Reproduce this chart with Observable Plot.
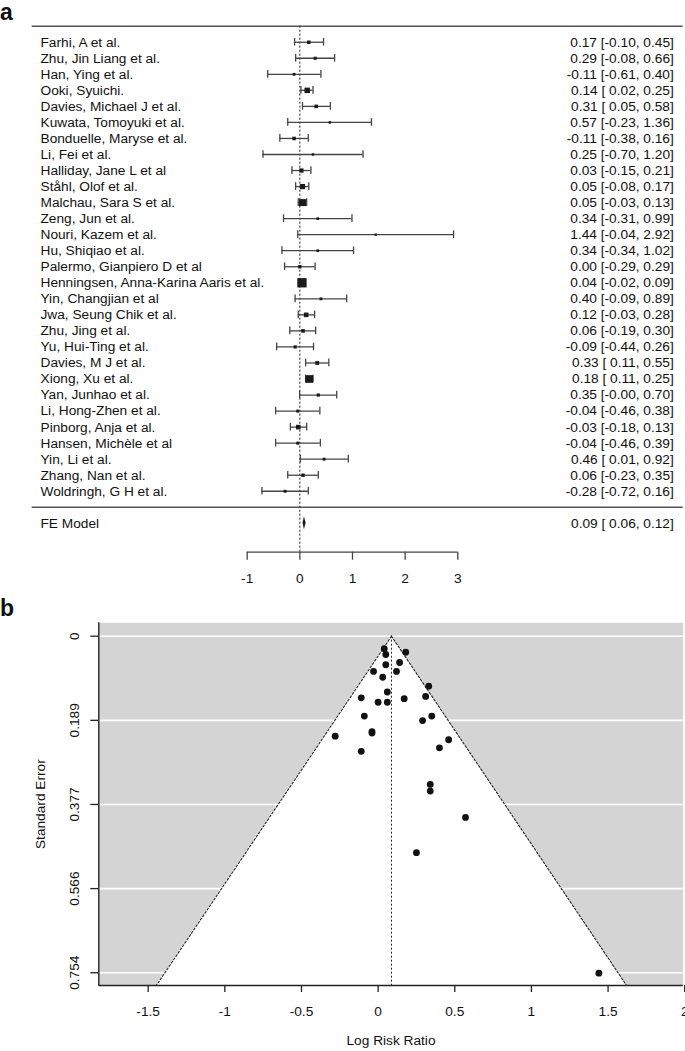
<!DOCTYPE html>
<html><head><meta charset="utf-8">
<script src="https://cdn.jsdelivr.net/npm/d3@7"></script>
<script src="https://cdn.jsdelivr.net/npm/@observablehq/plot@0.6"></script>
<style>
body{margin:0;background:#fff;}
#wrap{position:relative;width:685px;height:1051px;overflow:hidden;font-family:"Liberation Sans",Arial,sans-serif;}
.panel{position:absolute;left:0;}
.tag{position:absolute;left:0;font-weight:bold;font-size:23px;line-height:23px;color:#111;}
</style></head><body>
<div id="wrap">
 <div id="pa" class="panel" style="top:0"></div>
 <div id="pb" class="panel" style="top:600px"></div>
 <div class="tag" style="top:0.5px">a</div>
 <div class="tag" style="top:596.5px">b</div>
</div>
<script>
// ---- data ----
const studies = [
  "Farhi, A et al.", "Zhu, Jin Liang et al.", "Han, Ying et al.", "Ooki, Syuichi.",
  "Davies, Michael J et al.", "Kuwata, Tomoyuki et al.", "Bonduelle, Maryse et al.",
  "Li, Fei et al.", "Halliday, Jane L et al", "Ståhl, Olof et al.", "Malchau, Sara S et al.",
  "Zeng, Jun et al.", "Nouri, Kazem et al.", "Hu, Shiqiao et al.", "Palermo, Gianpiero D et al",
  "Henningsen, Anna-Karina Aaris et al.", "Yin, Changjian et al", "Jwa, Seung Chik et al.",
  "Zhu, Jing et al.", "Yu, Hui-Ting et al.", "Davies, M J et al.", "Xiong, Xu et al.",
  "Yan, Junhao et al.", "Li, Hong-Zhen et al.", "Pinborg, Anja et al.", "Hansen, Michèle et al",
  "Yin, Li et al.", "Zhang, Nan et al.", "Woldringh, G H et al."
];
const estimates = [0.17, 0.29, -0.11, 0.14, 0.31, 0.57, -0.11, 0.25, 0.03, 0.05, 0.05, 0.34, 1.44, 0.34, 0.00,
  0.04, 0.40, 0.12, 0.06, -0.09, 0.33, 0.18, 0.35, -0.04, -0.03, -0.04, 0.46, 0.06, -0.28];
const lowers = [-0.10, -0.08, -0.61, 0.02, 0.05, -0.23, -0.38, -0.70, -0.15, -0.08, -0.03, -0.31, -0.04, -0.34, -0.29,
  -0.02, -0.09, -0.03, -0.19, -0.44, 0.11, 0.11, -0.004, -0.46, -0.18, -0.46, 0.01, -0.23, -0.72];
const uppers = [0.45, 0.66, 0.40, 0.25, 0.58, 1.36, 0.16, 1.20, 0.21, 0.17, 0.13, 0.99, 2.92, 1.02, 0.29,
  0.09, 0.89, 0.28, 0.30, 0.26, 0.55, 0.25, 0.70, 0.38, 0.13, 0.39, 0.92, 0.35, 0.16];
const stdErrors = [0.140, 0.189, 0.258, 0.059, 0.135, 0.406, 0.138, 0.485, 0.092, 0.064, 0.041, 0.332, 0.755, 0.347, 0.148,
  0.028, 0.250, 0.079, 0.125, 0.179, 0.112, 0.036, 0.179, 0.214, 0.079, 0.217, 0.232, 0.148, 0.224];
const feLabel = "FE Model";
const feEst = 0.087, feLower = 0.06, feUpper = 0.12;
const feText = "0.09 [ 0.06, 0.12]";
const xTicksA = [-1, 0, 1, 2, 3];
const xTicksB = [-1.5, -1, -0.5, 0, 0.5, 1, 1.5, 2];
const yTicksB = [0, 0.1885, 0.377, 0.5655, 0.754];
const yTickLabelsB = ["0", "0.189", "0.377", "0.566", "0.754"];
const xTitleB = "Log Risk Ratio";
const yTitleB = "Standard Error";

// ---- derived tables ----
const rows = studies.map((s, i) => ({study: s, row: i + 1, est: estimates[i], lb: lowers[i], ub: uppers[i], se: stdErrors[i], prec: 1 / stdErrors[i]}));
const sepRow = studies.length + 1;
const feRow = studies.length + 2;
const axisRow = studies.length + 3.8;
const f2 = v => v.toFixed(2);
const fLb = v => (v >= 0 ? " " : "") + v.toFixed(2);
const ciText = d => `${f2(d.est)} [${fLb(d.lb)}, ${f2(d.ub)}]`;
const diamond = [
  {y: feRow - 0.4, x1: feEst, x2: feEst},
  {y: feRow, x1: feLower, x2: feUpper},
  {y: feRow + 0.4, x1: feEst, x2: feEst}
];
const font = "Liberation Sans, Arial, sans-serif";

const plotA = Plot.plot({
  width: 685, height: 600,
  marginTop: 25.7, marginBottom: 48.3, marginLeft: 31.7, marginRight: 2.3,
  style: {fontFamily: font, fontSize: "13.7px", color: "#111", background: "transparent"},
  x: {domain: [xTicksA[0], xTicksA[xTicksA.length - 1]], range: [246.7, 457.3], axis: null},
  y: {domain: [0, axisRow], reverse: true, axis: null},
  r: {type: "linear", domain: d3.extent(rows, d => d.prec), range: [1.3, 5.25]},
  marks: [
    Plot.ruleY([0, sepRow], {stroke: "#555", strokeWidth: 1.4}),
    Plot.ruleX([0], {stroke: "#222", strokeDasharray: "2,2", strokeWidth: 1}),
    Plot.ruleY(rows, {y: "row", x1: "lb", x2: "ub", stroke: "#444", strokeWidth: 1.3}),
    Plot.ruleX(rows, {x: "lb", y1: d => d.row - 0.24, y2: d => d.row + 0.24, stroke: "#444", strokeWidth: 1.3}),
    Plot.ruleX(rows, {x: "ub", y1: d => d.row - 0.24, y2: d => d.row + 0.24, stroke: "#444", strokeWidth: 1.3}),
    Plot.dot(rows, {x: "est", y: "row", r: "prec", symbol: "square", fill: "#1a1a1a", stroke: null}),
    Plot.areaX(diamond, {y: "y", x1: "x1", x2: "x2", fill: "#1a1a1a"}),
    Plot.text(rows, {y: "row", text: "study", frameAnchor: "left", textAnchor: "start", dx: 8.3}),
    Plot.text(rows, {y: "row", text: ciText, frameAnchor: "right", textAnchor: "end", dx: -9.4}),
    Plot.text([{row: feRow, t: feLabel}], {y: "row", text: "t", frameAnchor: "left", textAnchor: "start", dx: 8.3}),
    Plot.text([{row: feRow, t: feText}], {y: "row", text: "t", frameAnchor: "right", textAnchor: "end", dx: -9.4}),
    Plot.ruleY([axisRow], {x1: xTicksA[0], x2: xTicksA[xTicksA.length - 1], stroke: "#444", strokeWidth: 1.3}),
    Plot.axisX({ticks: xTicksA, tickSize: 8, tickPadding: 13, tickFormat: d => String(d), label: null, stroke: "#444", strokeWidth: 1.3})
  ]
});
document.getElementById("pa").appendChild(plotA);

const seLimit = 0.7826;
const funnel = [0, seLimit].map(s => ({se: s, x1: feEst - 1.96 * s, x2: feEst + 1.96 * s}));
const plotB = Plot.plot({
  width: 685, height: 451,
  marginTop: 22.3, marginBottom: 66, marginLeft: 98.3, marginRight: 2.3,
  style: {fontFamily: font, fontSize: "13.7px", color: "#111", background: "transparent"},
  x: {domain: [-1.822, 1.99], axis: null},
  y: {domain: [-0.030, seLimit], reverse: true, axis: null},
  marks: [
    Plot.frame({fill: "#d4d4d5", stroke: null}),
    Plot.ruleY(yTicksB, {stroke: "white", strokeWidth: 1.6}),
    Plot.areaX(funnel, {y: "se", x1: "x1", x2: "x2", fill: "white"}),
    Plot.line(funnel, {x: "x1", y: "se", stroke: "#222", strokeWidth: 1.1, strokeDasharray: "2,2"}),
    Plot.line(funnel, {x: "x2", y: "se", stroke: "#222", strokeWidth: 1.1, strokeDasharray: "2,2"}),
    Plot.ruleX([feEst], {y1: 0, y2: seLimit, stroke: "#222", strokeWidth: 1, strokeDasharray: "2,2"}),
    Plot.dot(rows, {x: "est", y: "se", r: 3.4, fill: "#111", stroke: null}),
    Plot.ruleX([-1.822], {stroke: "#222", strokeWidth: 1.4}),
    Plot.ruleY([seLimit], {stroke: "#222", strokeWidth: 1.4}),
    Plot.axisX({ticks: xTicksB, tickSize: 7, tickPadding: 14, tickFormat: d => String(d), label: null, stroke: "#222", strokeWidth: 1.3}),
    Plot.axisY({ticks: yTicksB, tickSize: 8, tickFormat: () => "", label: null, stroke: "#222", strokeWidth: 1.3}),
    Plot.text(yTicksB, {y: d => d, text: (d, i) => yTickLabelsB[i], frameAnchor: "left", dx: -24.1, rotate: -90, textAnchor: "middle", lineAnchor: "middle"}),
    Plot.text([yTitleB], {frameAnchor: "left", dx: -58, rotate: -90, textAnchor: "middle", lineAnchor: "middle"}),
    Plot.text([xTitleB], {frameAnchor: "bottom", dy: 55, textAnchor: "middle", lineAnchor: "middle"})
  ]
});
document.getElementById("pb").appendChild(plotB);
</script>
</body></html>
